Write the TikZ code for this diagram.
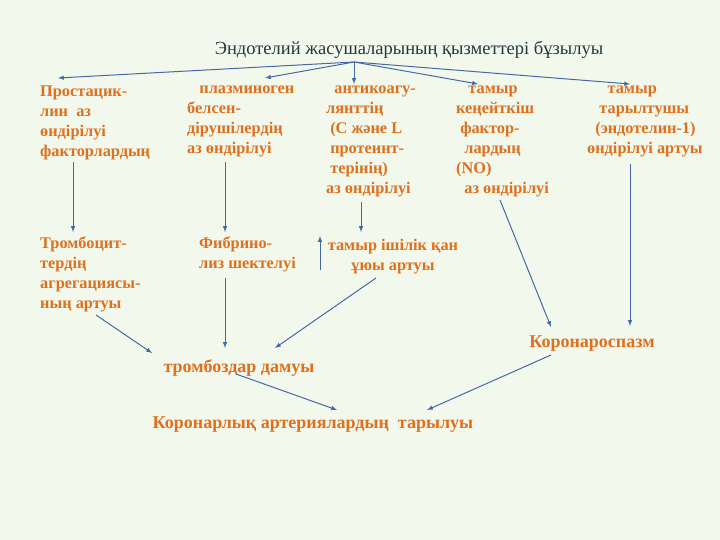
\documentclass[tikz,border=0pt]{standalone}
\usepackage{fontspec}
\setmainfont{Liberation Serif}
\definecolor{bg}{RGB}{242,248,236}
\definecolor{org}{RGB}{222,112,30}
\definecolor{ttl}{RGB}{35,55,65}
\definecolor{arr}{RGB}{70,105,165}
\begin{document}
\begin{tikzpicture}[x=1pt,y=-1pt,
  lbl/.style={anchor=north west,inner sep=0pt,align=left,text=org,font=\fontsize{16.3}{20}\selectfont\bfseries},
  clbl/.style={lbl,anchor=center,align=center},
  big/.style={clbl,font=\fontsize{18}{20}\selectfont\bfseries},
  con/.style={draw=arr,line width=1pt,-latex}]
\fill[bg] (0,0) rectangle (720,540);
\useasboundingbox (0,0) rectangle (720,540);
\node[anchor=center,text=ttl,font=\fontsize{18.5}{20}\selectfont] (t) at (409,50) {Эндотелий жасушаларының қызметтері бұзылуы};
\coordinate (o) at (354,62);
\coordinate (e1) at (58,78); \coordinate (e2) at (265,78); \coordinate (e3) at (354,84);
\coordinate (e4) at (478,84); \coordinate (e5) at (630,84);
\foreach \e in {e1,e2,e3,e4,e5} \draw[con] (o) -- (\e);
\node[lbl] (a1) at (40,86) {Простацик-\\лин\ \ аз\\өндірілуі\\факторлардың};
\node[lbl] (a2) at (187,86) {\ \ \ плазминоген\\ белсен-\\дірушілердің\\аз өндірілуі};
\node[lbl] (a3) at (326,86) {\ \ антикоагу-\\лянттің\\\ (С және L\\\ протеинт-\\\ терінің)\\аз өндірілуі};
\node[lbl] (a4) at (456,86) {\ \ \ тамыр\\кеңейткіш\\\ фактор-\\\ \ лардың\\(NO)\\\ \ аз өндірілуі};
\node[lbl] (a5) at (587,86) {\ \ \ \ \ тамыр\\\ \ \ тарылтушы\\\ \ (эндотелин-1)\\өндірілуі артуы};
\node[lbl] (b1) at (40,237) {Тромбоцит-\\тердің\\агрегациясы-\\ның артуы};
\node[lbl] (b2) at (199,237) {Фибрино-\\лиз шектелуі};
\node[clbl] (b3) at (393,257) {тамыр ішілік қан\\ұюы артуы};
\node[big] (c1) at (592,344) {Коронароспазм};
\node[big] (c2) at (239,368) {тромбоздар дамуы};
\node[big] (c3) at (313,425) {Коронарлық артериялардың\ \ тарылуы};
\coordinate (s1) at (73,162); \coordinate (t1) at (73,232);
\coordinate (s2) at (225,162); \coordinate (t2) at (225,232);
\coordinate (s3) at (361,202); \coordinate (t3) at (361,232);
\coordinate (s4) at (500,200); \coordinate (t4) at (551,327);
\coordinate (s5) at (630,164); \coordinate (t5) at (630,326);
\coordinate (u1) at (320,270); \coordinate (u2) at (320,236);
\coordinate (p1) at (96,315); \coordinate (q1) at (152,353);
\coordinate (p2) at (225,278); \coordinate (q2) at (225,348);
\coordinate (p3) at (376,278); \coordinate (q3) at (275,348);
\coordinate (p4) at (236,374); \coordinate (q4) at (337,410);
\coordinate (p5) at (551,355); \coordinate (q5) at (427,410);
\foreach \s/\t in {s1/t1,s2/t2,s3/t3,s4/t4,s5/t5,u1/u2,p1/q1,p2/q2,p3/q3,p4/q4,p5/q5}
  \draw[con] (\s) -- (\t);
\end{tikzpicture}
\end{document}
